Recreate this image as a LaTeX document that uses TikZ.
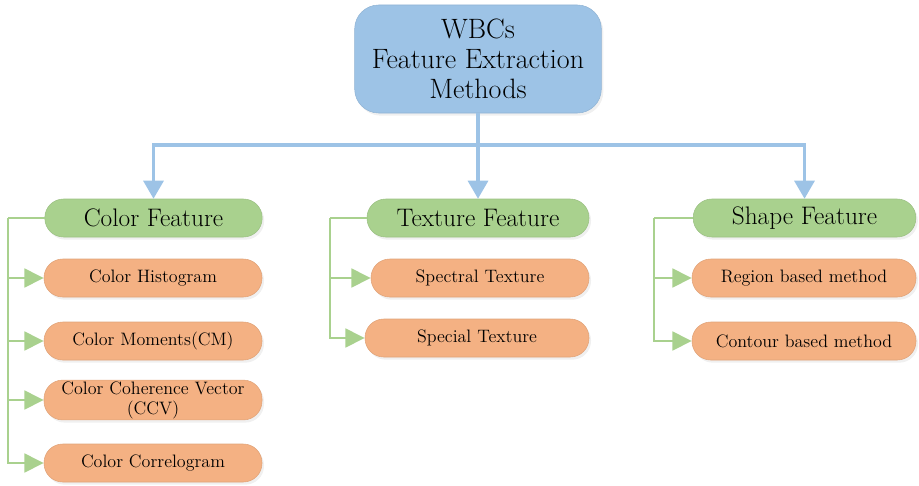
\documentclass[tikz,border=0pt]{standalone}
\usepackage{tikz}
\usetikzlibrary{arrows.meta,shadows}

\definecolor{rootblue}{HTML}{9DC3E6}
\definecolor{featgreen}{HTML}{A9D18E}
\definecolor{itemorange}{HTML}{F4B183}

\begin{document}
\begin{tikzpicture}[x=0.75pt,y=-0.75pt,
		softshadow/.style={drop shadow={opacity=0.12,shadow xshift=1.5pt,shadow yshift=-2pt}},
		rootbox/.style={draw=rootblue!92!black,fill=rootblue,rounded corners=18pt,softshadow,
			minimum width=185pt,minimum height=81pt,align=center,
			font=\fontsize{21}{22.5}\selectfont},
		featbox/.style={draw=featgreen!92!black,fill=featgreen,rounded corners=14pt,softshadow,
			minimum height=28.5pt,font=\fontsize{19}{21}\selectfont},
		itembox/.style={draw=itemorange!92!black,fill=itemorange,rounded corners=14pt,softshadow,
			minimum height=28.5pt,align=center,font=\fontsize{13.5}{15}\selectfont},
		blueline/.style={draw=rootblue,line width=2.3pt},
		bluearrow/.style={blueline,-{Triangle[length=13.5pt,width=15pt]}},
		greenline/.style={draw=featgreen,line width=2.1pt},
		greenarrow/.style={greenline,-{Triangle[length=14.5pt,width=14pt]}}]
	\useasboundingbox (0,0) rectangle (919,485);

	% top
	\node[rootbox] (root) at (478,59) {WBCs\\Feature Extraction\\Methods};

	% features
	\node[featbox,minimum width=163pt] (color) at (153.5,218) {Color Feature};
	\node[featbox,minimum width=166.5pt] (texture) at (478,218) {Texture Feature};
	\node[featbox,minimum width=167pt] (shape) at (804.5,218) {Shape Feature};

	% color items
	\node[itembox,minimum width=163.5pt] (hist) at (153,278) {Color Histogram};
	\node[itembox,minimum width=163.5pt] (moment) at (153,341) {Color Moments(CM)};
	\node[itembox,minimum width=163.5pt,inner sep=1pt] (ccv) at (153,400) {Color Coherence Vector\\(CCV)};
	\node[itembox,minimum width=163.5pt] (corr) at (153,463) {Color Correlogram};

	% texture items
	\node[itembox,minimum width=163.5pt] (spectral) at (480,278) {Spectral Texture};
	\node[itembox,minimum width=168pt] (special) at (477,338) {Special Texture};

	% shape items
	\node[itembox,minimum width=168pt] (region) at (804,278) {Region based method};
	\node[itembox,minimum width=168pt] (contour) at (804,341) {Contour based method};

	% root to features
	\coordinate (bus) at (478,145);
	\draw[blueline] (root) -- (bus);
	\draw[bluearrow] (bus) -| (color);
	\draw[bluearrow] (bus) -- (texture);
	\draw[bluearrow] (bus) -| (shape);

	% features to items
	\coordinate (cbus) at (8,218);
	\coordinate (tbus) at (330,218);
	\coordinate (sbus) at (654,218);
	\draw[greenline] (color.west) -- (cbus);
	\draw[greenline] (texture.west) -- (tbus);
	\draw[greenline] (shape.west) -- (sbus);
	\foreach \item in {hist,moment,ccv,corr}
		\draw[greenarrow] (cbus) |- (\item);
	\foreach \item in {spectral,special}
		\draw[greenarrow] (tbus) |- (\item);
	\foreach \item in {region,contour}
		\draw[greenarrow] (sbus) |- (\item);
\end{tikzpicture}
\end{document}
